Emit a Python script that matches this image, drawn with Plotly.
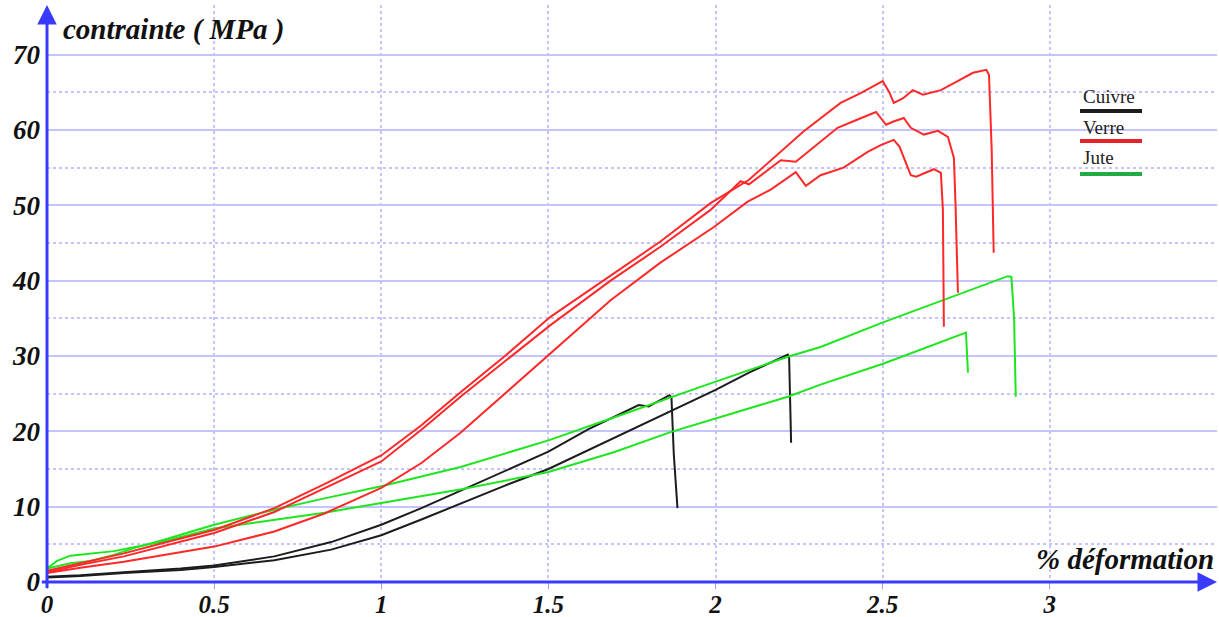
import plotly.graph_objects as go

# ---------------- data ----------------
cuivre_a_x = [0, 0.1, 0.23, 0.4, 0.5, 0.68, 0.85, 1.0, 1.12, 1.24, 1.37, 1.5, 1.62, 1.72, 1.77, 1.80, 1.83, 1.862, 1.868, 1.875, 1.886]
cuivre_a_y = [0.7, 0.9, 1.3, 1.8, 2.2, 3.4, 5.3, 7.6, 9.8, 12.2, 14.8, 17.3, 20.3, 22.5, 23.5, 23.3, 24.0, 24.8, 24.5, 17.0, 9.8]

cuivre_b_x = [0, 0.1, 0.23, 0.4, 0.5, 0.68, 0.85, 1.0, 1.12, 1.24, 1.37, 1.5, 1.68, 1.865, 2.0, 2.1, 2.21, 2.216, 2.22, 2.226]
cuivre_b_y = [0.6, 0.8, 1.2, 1.6, 2.0, 2.9, 4.3, 6.2, 8.3, 10.5, 12.8, 15.0, 18.8, 22.6, 25.5, 27.8, 30.1, 30.2, 29.8, 18.5]

verre_a_x = [0, 0.1, 0.23, 0.35, 0.5, 0.68, 0.83, 1.0, 1.12, 1.237, 1.37, 1.506, 1.686, 1.835, 1.985, 2.1, 2.263, 2.374, 2.434, 2.5, 2.52, 2.533, 2.56, 2.59, 2.62, 2.674, 2.72, 2.77, 2.81, 2.818, 2.826, 2.832]
verre_a_y = [1.5, 2.5, 3.8, 5.2, 6.9, 9.8, 13.0, 16.8, 20.8, 25.2, 30.0, 35.2, 40.7, 45.2, 50.3, 53.4, 59.8, 63.6, 64.9, 66.5, 65.0, 63.6, 64.2, 65.3, 64.7, 65.3, 66.4, 67.6, 68.0, 67.3, 57.4, 43.7]

verre_b_x = [0, 0.1, 0.23, 0.35, 0.5, 0.68, 0.83, 1.0, 1.12, 1.237, 1.37, 1.506, 1.686, 1.835, 1.985, 2.075, 2.1, 2.195, 2.24, 2.365, 2.425, 2.48, 2.51, 2.53, 2.563, 2.584, 2.623, 2.665, 2.695, 2.713, 2.718, 2.725]
verre_b_y = [1.3, 2.3, 3.4, 4.8, 6.5, 9.3, 12.4, 16.0, 20.2, 24.6, 29.3, 34.1, 40.0, 44.5, 49.4, 53.2, 52.8, 56.0, 55.8, 60.3, 61.4, 62.4, 60.7, 61.1, 61.6, 60.3, 59.4, 59.9, 59.1, 56.3, 49.8, 38.4]

verre_c_x = [0, 0.1, 0.23, 0.35, 0.5, 0.68, 0.83, 1.0, 1.12, 1.237, 1.37, 1.506, 1.686, 1.835, 1.994, 2.096, 2.165, 2.24, 2.27, 2.314, 2.383, 2.455, 2.494, 2.533, 2.55, 2.584, 2.6, 2.653, 2.674, 2.68, 2.683]
verre_c_y = [1.2, 1.9, 2.7, 3.6, 4.7, 6.7, 9.1, 12.5, 15.8, 19.8, 25.0, 30.4, 37.4, 42.4, 47.1, 50.5, 52.1, 54.4, 52.6, 54.0, 55.0, 57.1, 58.0, 58.7, 57.8, 54.0, 53.8, 54.8, 54.3, 49.4, 33.9]

jute_a_x = [0, 0.07, 0.13, 0.2, 0.26, 0.35, 0.5, 0.68, 0.83, 1.0, 1.24, 1.5, 1.7, 1.865, 1.955, 2.216, 2.314, 2.503, 2.7, 2.874, 2.885, 2.893, 2.898]
jute_a_y = [1.8, 2.5, 2.8, 3.6, 4.5, 5.6, 7.6, 9.6, 11.1, 12.7, 15.3, 18.8, 21.9, 24.5, 25.9, 29.9, 31.2, 34.5, 37.7, 40.6, 40.5, 35.0, 24.6]

jute_b_x = [0, 0.03, 0.07, 0.13, 0.2, 0.26, 0.35, 0.5, 0.68, 0.83, 1.0, 1.24, 1.5, 1.7, 1.865, 1.955, 2.216, 2.314, 2.503, 2.749, 2.752, 2.755]
jute_b_y = [1.8, 2.8, 3.5, 3.8, 4.1, 4.6, 5.4, 7.1, 8.3, 9.2, 10.5, 12.3, 14.6, 17.3, 19.9, 21.1, 24.6, 26.2, 29.0, 33.1, 31.0, 27.8]

x_ticks = [0, 0.5, 1, 1.5, 2, 2.5, 3]
x_tick_text = ["0", "0.5", "1", "1.5", "2", "2.5", "3"]
y_ticks = [0, 10, 20, 30, 40, 50, 60, 70]
y_minor = [5, 15, 25, 35, 45, 55, 65]
legend_names = ["Cuivre", "Verre", "Jute"]

# ---------------- styling ----------------
RED = "#ff2828"
GREEN = "#1ee61e"
BLACK = "#1c1c1c"
BLUE = "#3a3aff"
GRID = "#c4c4ff"
FONT = "Liberation Serif"

W, H = 1219, 617
ML, MR, MT, MB = 47, 2, 5, 35
XMAX, YMAX = 3.5, 76.6

fig = go.Figure()

series = [
    (cuivre_a_x, cuivre_a_y, BLACK), (cuivre_b_x, cuivre_b_y, BLACK),
    (jute_a_x, jute_a_y, GREEN), (jute_b_x, jute_b_y, GREEN),
    (verre_a_x, verre_a_y, RED), (verre_b_x, verre_b_y, RED), (verre_c_x, verre_c_y, RED),
]
for xs, ys, c in series:
    fig.add_trace(go.Scatter(x=xs, y=ys, mode="lines", line=dict(color=c, width=2),
                             showlegend=False, hoverinfo="skip", cliponaxis=False))

ytickfont = dict(family=FONT, size=27, color="#111", weight="bold", style="italic")
xtickfont = dict(family=FONT, size=25, color="#111", weight="bold", style="italic")

fig.update_layout(
    width=W, height=H,
    margin=dict(l=ML, r=MR, t=MT, b=MB, pad=0, autoexpand=False),
    paper_bgcolor="white", plot_bgcolor="white",
    xaxis=dict(range=[0, XMAX], tickvals=x_ticks, ticktext=x_tick_text, automargin=False,
               showgrid=True, gridcolor=GRID, griddash="dot", gridwidth=1.5,
               zeroline=False, showline=False,
               ticks="outside", ticklen=6, tickcolor="#9a9aff", tickwidth=1,
               ticklabelstandoff=-6, tickfont=xtickfont),
    yaxis=dict(range=[0, YMAX], tickvals=y_ticks, automargin=False,
               showgrid=True, gridcolor=GRID, gridwidth=1.5,
               zeroline=False, showline=False, ticks="", ticklabelstandoff=6,
               tickfont=ytickfont,
               minor=dict(tickvals=y_minor, showgrid=True, gridcolor=GRID,
                          griddash="dot", gridwidth=1.5)),
)

def px_x(p):
    return (p - ML) / (W - ML - MR)

def px_y(p):
    return (H - MB - p) / (H - MT - MB)

annotations = [
    # x axis with arrow
    dict(x=XMAX, y=0, ax=-0.02, ay=0, xref="x", yref="y", axref="x", ayref="y",
         showarrow=True, arrowhead=2, arrowsize=1.3, arrowwidth=3, arrowcolor=BLUE, text=""),
    # y axis with arrow
    dict(x=0, y=YMAX, ax=0, ay=-1.0, xref="x", yref="y", axref="x", ayref="y",
         showarrow=True, arrowhead=2, arrowsize=1.3, arrowwidth=3, arrowcolor=BLUE, text=""),
    dict(text="contrainte ( MPa )", xref="paper", yref="paper", x=px_x(61), y=px_y(30),
         xanchor="left", yanchor="middle", showarrow=False,
         font=dict(family=FONT, size=29, color="#111", weight="bold", style="italic")),
    dict(text="% déformation", xref="paper", yref="paper", x=px_x(1216), y=px_y(559),
         xanchor="right", yanchor="middle", showarrow=False,
         font=dict(family=FONT, size=29, color="#111", weight="bold", style="italic")),
]

leg_colors = [BLACK, "#e8202a", "#22aa44"]
leg_text_y = [97, 127, 157]
leg_line_y = [111, 141, 174]
shapes = []
for name, c, ty, ly in zip(legend_names, leg_colors, leg_text_y, leg_line_y):
    annotations.append(dict(text=name, xref="paper", yref="paper", x=px_x(1081), y=px_y(ty),
                            xanchor="left", yanchor="middle", showarrow=False,
                            font=dict(family=FONT, size=19, color="#222")))
    shapes.append(dict(type="line", xref="paper", yref="paper",
                       x0=px_x(1080), x1=px_x(1142), y0=px_y(ly), y1=px_y(ly),
                       line=dict(color=c, width=4)))

fig.update_layout(annotations=annotations, shapes=shapes)

fig.write_html("out.html", config={"displayModeBar": False},
               post_script="document.body.style.margin='0';document.body.style.overflow='hidden';")
